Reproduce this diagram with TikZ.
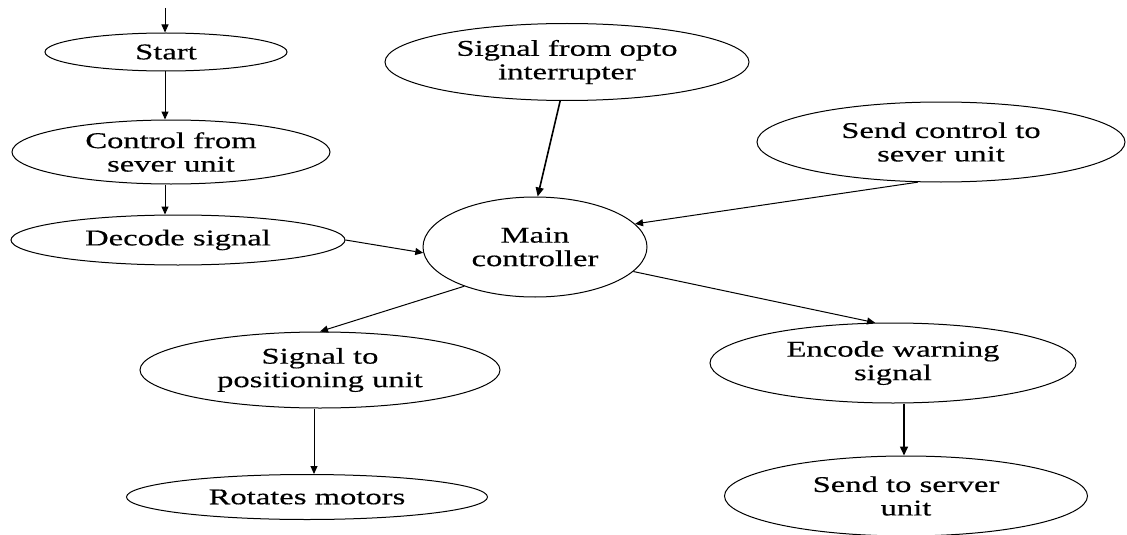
\documentclass[tikz,border=0pt]{standalone}
\usepackage{fontspec}
\setmainfont{Liberation Serif}[FakeStretch=1.45,FakeBold=0.4]
\usetikzlibrary{shapes.geometric,arrows.meta}
\begin{document}
\begin{tikzpicture}[x=1pt,y=-1pt,
  oval/.style={draw,ellipse,line width=1pt,inner sep=0pt,align=center,
    font=\fontsize{22.5}{23.5}\selectfont},
  arr/.style={line width=1pt,-{Triangle[length=8pt,width=7pt]}},
  thick arr/.style={line width=1.6pt,-{Triangle[length=9pt,width=8pt]}}]
\useasboundingbox (0,0) rectangle (1127,535);
\node[oval,minimum width=242,minimum height=38] (start) at (166,52) {Start};
\node[oval,minimum width=318,minimum height=64] (control) at (171,152) {Control from\\sever unit};
\node[oval,minimum width=334,minimum height=50] (decode) at (178,240) {Decode signal};
\node[oval,minimum width=364,minimum height=77] (opto) at (567,62) {Signal from opto\\interrupter};
\node[oval,minimum width=224,minimum height=100] (main) at (535,247) {Main\\controller};
\node[oval,minimum width=368,minimum height=80] (sendctl) at (941,142) {Send control to\\sever unit};
\node[oval,minimum width=360,minimum height=76] (pos) at (320,370) {Signal to\\positioning unit};
\node[oval,minimum width=361,minimum height=45] (rot) at (307,497) {Rotates motors};
\node[oval,minimum width=366,minimum height=80] (enc) at (893,363) {Encode warning\\signal};
\node[oval,minimum width=363,minimum height=80] (send) at (906,496) {Send to server\\unit};
\coordinate (top) at (165,8);
\coordinate (colA) at (165,0);
\coordinate (colB) at (314,0);
\coordinate (colC) at (904,0);
\draw[arr] (top) -- (start.north -| colA);
\draw[arr] (start.south -| colA) -- (control.north -| colA);
\draw[arr] (control.south -| colA) -- (decode.north -| colA);
\draw[arr] (decode.east) -- (main.183);
\draw[thick arr] (opto.260) -- (main.87);
\draw[arr] (sendctl.240) -- (main.13);
\draw[arr] (main.209) -- (pos.north);
\draw[arr] (pos.south -| colB) -- (rot.north -| colB);
\draw[arr] (main.-14) -- (enc.114);
\draw[thick arr] (enc.south -| colC) -- (send.north -| colC);
\end{tikzpicture}
\end{document}
